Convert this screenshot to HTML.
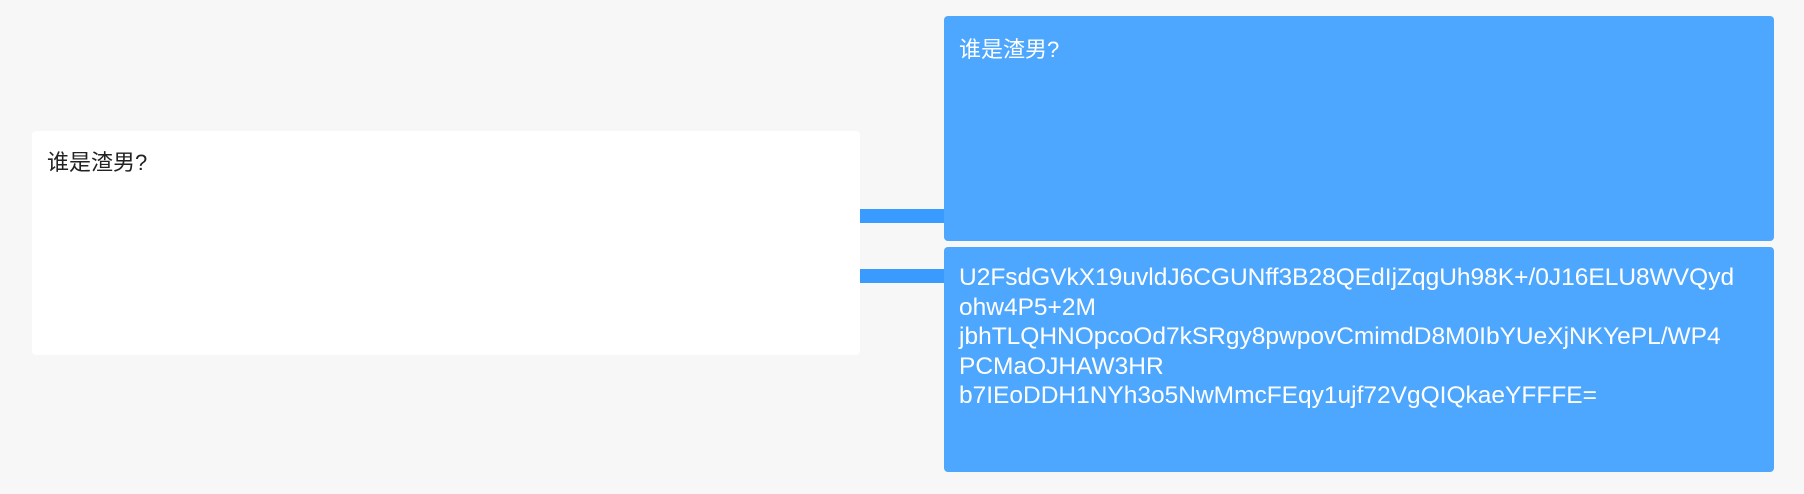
<!DOCTYPE html>
<html><head><meta charset="utf-8"><style>
html,body{margin:0;padding:0}
body{width:1804px;height:494px;background:#f7f7f7;position:relative;overflow:hidden;font-family:"Liberation Sans","Noto Sans CJK SC",sans-serif}
.box{position:absolute;border-radius:4px;box-sizing:border-box}
.l{left:32px;top:131px;width:828px;height:224px;background:#fff;color:#222;font-size:22px;padding:14px 15px}
.r1{left:944px;top:16px;width:830px;height:225px;background:#4ea7ff;color:#fff;font-size:22px;padding:16px 15px}
.r2{left:944px;top:247px;width:830px;height:225px;background:#4ea7ff;color:#fff;font-size:24.5px;line-height:29.5px;padding:16px 15px;white-space:nowrap;overflow:hidden}
.c{position:absolute;left:860px;width:84px;height:14px;background:#3a9bff}
</style></head><body>
<div class="box l">谁是渣男?</div>
<div class="c" style="top:209px"></div>
<div class="c" style="top:269px"></div>
<div class="box r1">谁是渣男?</div>
<div class="box r2">U2FsdGVkX19uvldJ6CGUNff3B28QEdIjZqgUh98K+/0J16ELU8WVQyd<br>ohw4P5+2M<br>jbhTLQHNOpcoOd7kSRgy8pwpovCmimdD8M0IbYUeXjNKYePL/WP4<br>PCMaOJHAW3HR<br>b7IEoDDH1NYh3o5NwMmcFEqy1ujf72VgQIQkaeYFFFE=</div>
</body></html>
